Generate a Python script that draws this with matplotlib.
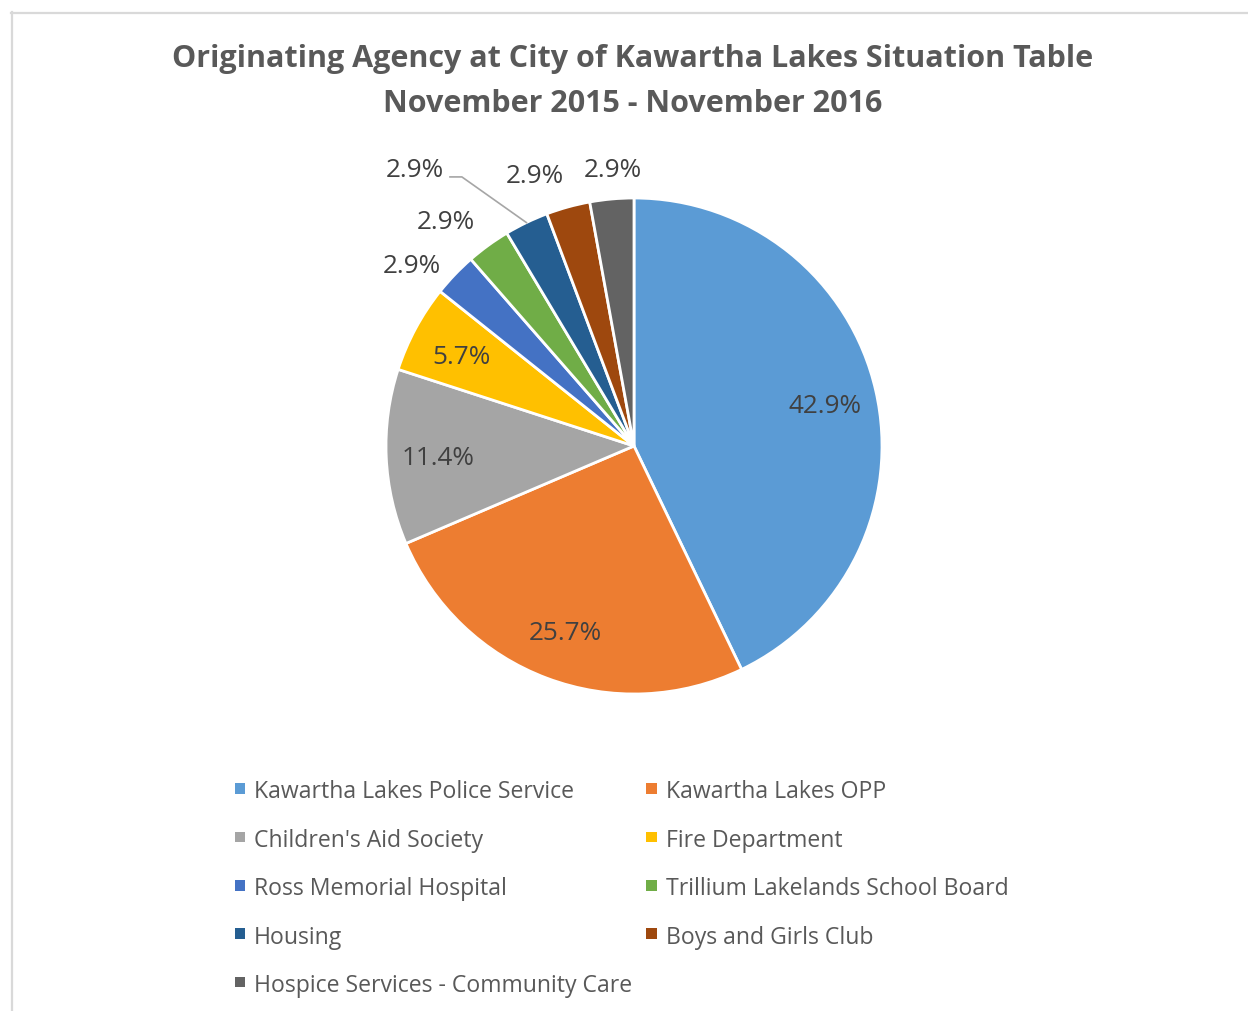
import numpy as np
import matplotlib.pyplot as plt
from matplotlib.lines import Line2D
from matplotlib.patches import Rectangle

plt.rcParams['font.family'] = ['Open Sans', 'DejaVu Sans']

# data
agencies = ['Kawartha Lakes Police Service', 'Kawartha Lakes OPP',
            "Children's Aid Society", 'Fire Department',
            'Ross Memorial Hospital', 'Trillium Lakelands School Board',
            'Housing', 'Boys and Girls Club',
            'Hospice Services - Community Care']
counts = [15, 9, 4, 2, 1, 1, 1, 1, 1]
colors = ['#5B9BD5', '#ED7D31', '#A5A5A5', '#FFC000', '#4472C4',
          '#70AD47', '#255E91', '#9E480E', '#636363']
title_lines = ['Originating Agency at City of Kawartha Lakes Situation Table',
               'November 2015 - November 2016']

# where the outside labels of the thin slices sit (pie radius units)
outside_pos = {4: (-0.895, 0.738), 5: (-0.760, 0.919), 6: (-0.883, 1.125),
               7: (-0.399, 1.101), 8: (-0.087, 1.127)}

W, H = 1248, 1012
fig = plt.figure(figsize=(W / 100, H / 100), dpi=100)

# chart border (light grey, only top and left visible in the crop)
fig.add_artist(Line2D([11.5 / W, 11.5 / W], [0, 1 - 13 / H], color='#D9D9D9', lw=1.6))
fig.add_artist(Line2D([11 / W, 1], [1 - 13.5 / H, 1 - 13.5 / H], color='#D9D9D9', lw=1.6))

for k, line in enumerate(title_lines):
    fig.text(633 / W, 1 - (67 + 45 * k) / H, line, ha='center', va='baseline',
             fontsize=22, fontweight='bold', color='#595959')

# pie axes: center (634, 447), radius 248 px
r = 248
half = 1.2 * r
ax = fig.add_axes([(634 - half) / W, (H - 447 - half) / H, 2 * half / W, 2 * half / H])
wedges, texts, autotexts = ax.pie(
    counts, colors=colors, startangle=90, counterclock=False,
    autopct='%1.1f%%', pctdistance=0.79,
    wedgeprops=dict(edgecolor='white', linewidth=2),
    textprops=dict(fontsize=18.8, color='#404040', va='center_baseline'))
ax.set_xlim(-1.2, 1.2)
ax.set_ylim(-1.2, 1.2)
ax.set_aspect('equal')
ax.axis('off')

for i, t in enumerate(autotexts):
    if i in outside_pos:
        t.set_position(outside_pos[i])

# leader line for the Housing label
w = wedges[6]
ang = np.deg2rad((w.theta1 + w.theta2) / 2)
ax.plot([np.cos(ang), -0.694, -0.742], [np.sin(ang), 1.085, 1.085],
        color='#A6A6A6', lw=1.2)

# legend, filled row by row like the original
for k in range(len(agencies)):
    row, col = divmod(k, 2)
    x0 = [234.5, 646][col]
    yc = 789.5 + 48.4 * row
    fig.add_artist(Rectangle((x0 / W, 1 - (yc + 5.25) / H), 10.5 / W, 10.5 / H,
                             facecolor=colors[k], edgecolor='none',
                             transform=fig.transFigure))
    fig.text((x0 + 19.5) / W, 1 - yc / H, agencies[k], ha='left',
             va='center_baseline', fontsize=16.6, color='#595959')

fig.savefig('out.png', dpi=100)
